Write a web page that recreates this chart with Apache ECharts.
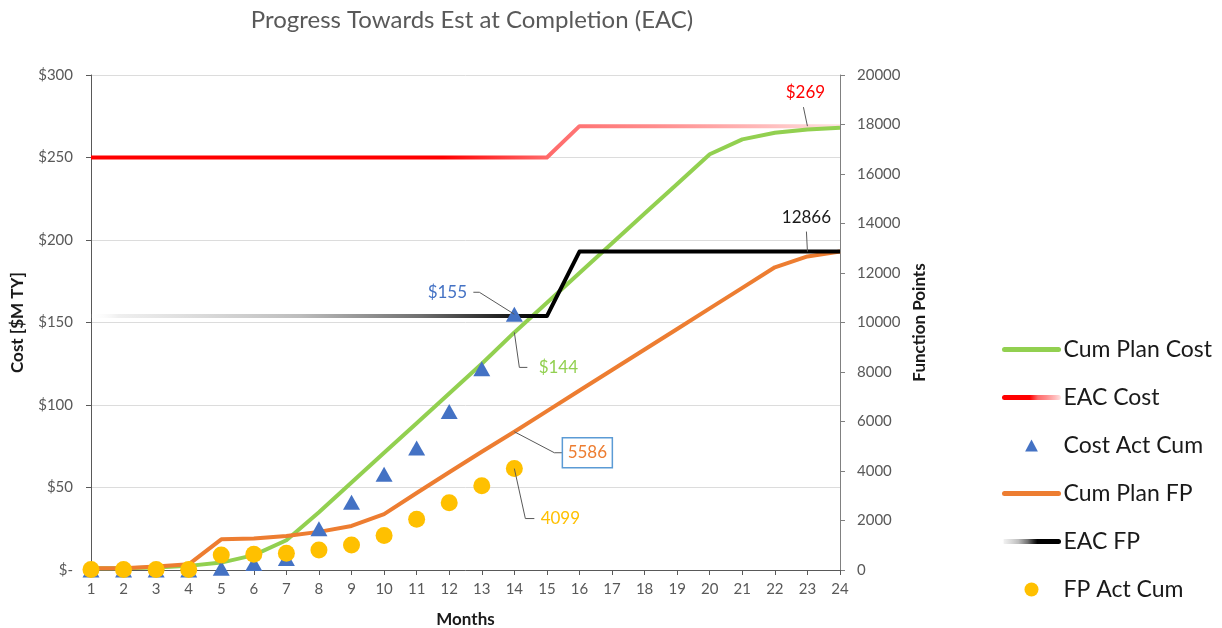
<!DOCTYPE html>
<html>
<head>
<meta charset="utf-8">
<script src="https://cdn.jsdelivr.net/npm/echarts@6/dist/echarts.min.js"></script>
<style>
  html, body { margin: 0; padding: 0; background: #fff; }
  #chart { width: 1222px; height: 628px; }
</style>
</head>
<body>
<div id="chart"></div>
<script>
// ---- data ----
const months = ['1','2','3','4','5','6','7','8','9','10','11','12','13','14','15','16','17','18','19','20','21','22','23','24'];

// cost series ($M TY, left axis)
const cumPlanCost = [1, 1, 1.5, 2.5, 4.5, 9, 18, 35, 53, 71, 89, 107, 125, 144, 162, 180, 198, 216, 234, 252, 261, 265, 267, 268];
const eacCost     = [250, 250, 250, 250, 250, 250, 250, 250, 250, 250, 250, 250, 250, 250, 250, 269, 269, 269, 269, 269, 269, 269, 269, 269];
const costActCum  = [0, 0, 0, 0, 1, 4, 7, 25, 41, 58, 74, 96, 122, 155, null, null, null, null, null, null, null, null, null, null];

// function point series (right axis)
const cumPlanFP = [70, 70, 140, 230, 1240, 1270, 1370, 1540, 1780, 2260, 3110, 3950, 4780, 5586, 6420, 7250, 8080, 8910, 9740, 10570, 11400, 12230, 12670, 12866];
const eacFP     = [10260, 10260, 10260, 10260, 10260, 10260, 10260, 10260, 10260, 10260, 10260, 10260, 10260, 10260, 10260, 12866, 12866, 12866, 12866, 12866, 12866, 12866, 12866, 12866];
const fpActCum  = [20, 20, 20, 20, 610, 640, 680, 810, 1010, 1390, 2050, 2720, 3400, 4099, null, null, null, null, null, null, null, null, null, null];

// tick labels
const costTickLabels = ['$-', '$50', '$100', '$150', '$200', '$250', '$300'];
const fpTickLabels = ['0', '2000', '4000', '6000', '8000', '10000', '12000', '14000', '16000', '18000', '20000'];

// ---- styling ----
const FONT = 'Lato, "Open Sans", sans-serif';
const GREEN = '#92d050', ORANGE = '#ed7d31', BLUE = '#4472c4', GOLD = '#ffc000', RED = '#ff0000';

// callouts: which point each one labels, and how its leader/label sit (pixel offsets from the point)
const costCallouts = [
  { month: 22, source: eacCost,     fmt: v => '$' + v, color: RED,    leader: [[-4, -19]],              text: [-2, -34] },
  { month: 13, source: costActCum,  fmt: v => '$' + v, color: BLUE,   leader: [[-35, -22], [-41, -22]], text: [-67, -22] },
  { month: 13, source: cumPlanCost, fmt: v => '$' + v, color: GREEN,  leader: [[5, 35], [13, 35]],      text: [44, 35] }
];
const fpCallouts = [
  { month: 22, source: eacFP,     fmt: v => String(v), color: '#1a1a1a', leader: [[-1, -20]],         text: [-1, -34] },
  { month: 13, source: cumPlanFP, fmt: v => String(v), color: ORANGE,  leader: [[40, 21], [48, 21]], text: [73, 21], box: [50, 30] },
  { month: 13, source: fpActCum,  fmt: v => String(v), color: GOLD,    leader: [[11, 50], [20, 50]], text: [46, 50] }
];

function calloutSeries(list, axisIndex) {
  return {
    type: 'custom',
    yAxisIndex: axisIndex,
    silent: true,
    clip: false,
    z: 20,
    data: list.map(c => [c.month, c.source[c.month]]),
    renderItem: function (params, api) {
      const c = list[params.dataIndex];
      const p = api.coord([api.value(0), api.value(1)]);
      const pts = [p].concat(c.leader.map(d => [p[0] + d[0], p[1] + d[1]]));
      const tx = p[0] + c.text[0], ty = p[1] + c.text[1];
      const children = [{
        type: 'polyline',
        shape: { points: pts },
        style: { stroke: '#595959', lineWidth: 1, fill: null }
      }];
      if (c.box) {
        children.push({
          type: 'rect',
          shape: { x: tx - c.box[0] / 2, y: ty - c.box[1] / 2, width: c.box[0], height: c.box[1] },
          style: { fill: '#ffffff', stroke: '#5b9bd5', lineWidth: 1.5 }
        });
      }
      children.push({
        type: 'text',
        style: {
          x: tx, y: ty, text: c.fmt(c.source[c.month]),
          fill: c.color, fontSize: 17, fontFamily: FONT,
          align: 'center', verticalAlign: 'middle'
        }
      });
      return { type: 'group', children: children };
    }
  };
}

const eacCostGradient = new echarts.graphic.LinearGradient(0, 0, 1, 0, [
  { offset: 0, color: '#ff0000' },
  { offset: 0.47, color: '#ff0000' },
  { offset: 0.61, color: '#ff6b6b' },
  { offset: 0.75, color: '#ff8c8c' },
  { offset: 0.9, color: '#ffbcbc' },
  { offset: 1, color: '#ffe4e4' }
]);
const eacFPGradient = new echarts.graphic.LinearGradient(0, 0, 1, 0, [
  { offset: 0, color: 'rgba(255,255,255,0)' },
  { offset: 0.04, color: 'rgba(235,235,235,0.8)' },
  { offset: 0.28, color: '#bdbdbd' },
  { offset: 0.44, color: '#707070' },
  { offset: 0.54, color: '#262626' },
  { offset: 0.6, color: '#000000' },
  { offset: 1, color: '#000000' }
]);

// legend marker for the triangle series: the symbol sits in the middle of a 55x14 box
const legendTriangle = 'path://M0,0M55,14M27.5,1L34,13L21,13Z';
const hiddenSymbol = { opacity: 0 };

const chart = echarts.init(document.getElementById('chart'), null, { renderer: 'canvas' });

chart.setOption({
  animation: false,
  backgroundColor: '#ffffff',
  title: {
    text: 'Progress Towards Est at Completion (EAC)',
    left: 467,
    top: 3,
    textAlign: 'center',
    textStyle: { fontFamily: FONT, fontSize: 24, fontWeight: 'normal', color: '#595959' }
  },
  legend: {
    orient: 'vertical',
    left: 997,
    top: 333,
    itemWidth: 54,
    itemHeight: 14,
    itemGap: 25,
    lineStyle: { width: 5, cap: 'round' },
    data: [
      { name: 'Cum Plan Cost', itemStyle: hiddenSymbol },
      { name: 'EAC Cost', itemStyle: hiddenSymbol },
      { name: 'Cost Act Cum', icon: legendTriangle },
      { name: 'Cum Plan FP', itemStyle: hiddenSymbol },
      { name: 'EAC FP', itemStyle: hiddenSymbol },
      { name: 'FP Act Cum', icon: 'circle' }
    ],
    textStyle: { fontFamily: FONT, fontSize: 23, color: '#1a1a1a' }
  },
  grid: { left: 91, right: 382, top: 75, bottom: 58, containLabel: false, outerBoundsMode: 'none' },
  xAxis: {
    type: 'category',
    data: months,
    boundaryGap: false,
    name: 'Months',
    nameLocation: 'middle',
    nameGap: 41,
    nameTextStyle: { fontFamily: FONT, fontSize: 17, fontWeight: 'bold', color: '#1a1a1a' },
    axisLine: { lineStyle: { color: '#595959', width: 1 } },
    axisTick: { show: true, length: 5, lineStyle: { color: '#595959' } },
    axisLabel: { fontFamily: FONT, fontSize: 15, color: '#595959', margin: 12 },
    splitLine: { show: false }
  },
  yAxis: [
    {
      type: 'value',
      min: 0, max: 300, interval: 50,
      name: 'Cost [$M TY]',
      nameLocation: 'middle',
      nameRotate: 90,
      nameGap: 65,
      nameTextStyle: { fontFamily: FONT, fontSize: 17, fontWeight: 'bold', color: '#1a1a1a' },
      axisLine: { show: true, lineStyle: { color: '#595959', width: 1 } },
      axisTick: { show: true, length: 5, lineStyle: { color: '#595959' } },
      axisLabel: {
        fontFamily: FONT, fontSize: 15, color: '#595959', margin: 18,
        formatter: (v, i) => costTickLabels[i]
      },
      splitLine: { show: true, lineStyle: { color: '#dcdcdc', width: 1 } }
    },
    {
      type: 'value',
      min: 0, max: 20000, interval: 2000,
      position: 'right',
      name: 'Function Points',
      nameLocation: 'middle',
      nameRotate: 90,
      nameGap: 69,
      nameTextStyle: { fontFamily: FONT, fontSize: 17, fontWeight: 'bold', color: '#1a1a1a' },
      axisLine: { show: true, lineStyle: { color: '#808080', width: 1 } },
      axisTick: { show: true, length: 5, lineStyle: { color: '#808080' } },
      axisLabel: {
        fontFamily: FONT, fontSize: 15, color: '#595959', margin: 17,
        formatter: (v, i) => fpTickLabels[i]
      },
      splitLine: { show: false }
    }
  ],
  series: [
    {
      name: 'Cum Plan Cost', type: 'line', yAxisIndex: 0, data: cumPlanCost,
      symbol: 'none', z: 3, color: GREEN,
      lineStyle: { color: GREEN, width: 4, join: 'round' }
    },
    {
      name: 'EAC Cost', type: 'line', yAxisIndex: 0, data: eacCost,
      symbol: 'none', z: 2, color: RED,
      lineStyle: { color: eacCostGradient, width: 4, join: 'round' }
    },
    {
      name: 'Cost Act Cum', type: 'scatter', yAxisIndex: 0, data: costActCum,
      symbol: 'triangle', symbolSize: [17, 15], z: 6,
      itemStyle: { color: BLUE, opacity: 1 }
    },
    {
      name: 'Cum Plan FP', type: 'line', yAxisIndex: 1, data: cumPlanFP,
      symbol: 'none', z: 3, color: ORANGE,
      lineStyle: { color: ORANGE, width: 4, join: 'round' }
    },
    {
      name: 'EAC FP', type: 'line', yAxisIndex: 1, data: eacFP,
      symbol: 'none', z: 4, color: '#000000',
      lineStyle: { color: eacFPGradient, width: 4, join: 'round' }
    },
    {
      name: 'FP Act Cum', type: 'scatter', yAxisIndex: 1, data: fpActCum,
      symbol: 'circle', symbolSize: 17, z: 7,
      itemStyle: { color: GOLD, opacity: 1 }
    },
    calloutSeries(costCallouts, 0),
    calloutSeries(fpCallouts, 1)
  ]
});
</script>
</body>
</html>
